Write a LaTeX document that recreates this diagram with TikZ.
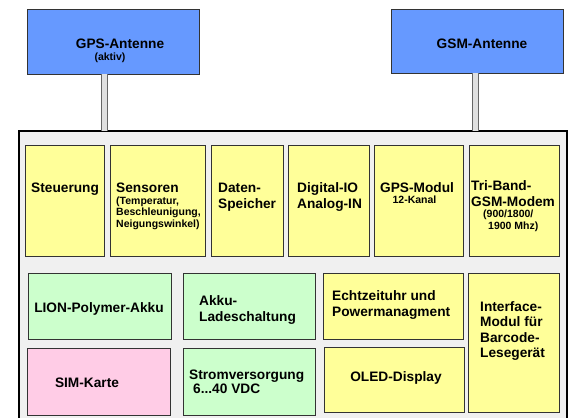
\documentclass[tikz,border=0pt]{standalone}
\usepackage{fontspec}
\setmainfont{Liberation Sans}
\definecolor{antblau}{HTML}{6699FF}
\definecolor{gelb}{HTML}{FFFF99}
\definecolor{gruen}{HTML}{CCFFCC}
\definecolor{rosa}{HTML}{FFCCE6}
\definecolor{gehaeuse}{HTML}{F0F0F0}
\begin{document}
\begin{tikzpicture}[x=1pt,y=-1pt,
  box/.style={draw=black!80, line width=0.9pt, anchor=north west, inner sep=0pt, outer sep=0pt},
  gross/.style={font=\fontsize{13.7}{16}\selectfont\bfseries, inner sep=0pt, align=left},
  klein/.style={font=\fontsize{10.5}{11.7}\selectfont\bfseries, inner sep=0pt, align=left},
  mast/.style={draw=black!60, double=black!12, double distance=5pt, line width=1pt}]
\clip (0,0) rectangle (571,418);

% Antennen
\node[box, fill=antblau, minimum width=172pt, minimum height=65pt] (gpsant) at (27,9) {};
\node[box, fill=antblau, minimum width=172pt, minimum height=64pt] (gsmant) at (391,9) {};
\node[gross, anchor=base] (gpsantt) at (120,48) {GPS-Antenne};
\node[klein, anchor=base] (gpsantk) at (110,60) {(aktiv)};
\node[gross, anchor=base] (gsmantt) at (482,48) {GSM-Antenne};

% Gehaeuse
\node[box, fill=gehaeuse, line width=1.3pt, draw=black, minimum width=548pt, minimum height=300pt] (geraet) at (19,131) {};
\coordinate (gpsmast) at (104.5,0);
\coordinate (gsmmast) at (475.5,0);
\draw[mast] (gpsant.south -| gpsmast) -- (geraet.north -| gpsmast);
\draw[mast] (gsmant.south -| gsmmast) -- (geraet.north -| gsmmast);

% obere Reihe
\foreach \n/\x/\w in {steu/25/79, sens/110/95, daten/211/72, dio/288/81, gpsmod/374/89, gsmmod/469/90}
{
    \node[box, fill=gelb, minimum width=\w pt, minimum height=111pt] (\n) at (\x,145) {};
}
% mehrzeilig: base = letzte Zeile
\node[gross, anchor=base west] (steut) at (31,192) {Steuerung};
\node[gross, anchor=base west] (senst) at (116,192) {Sensoren};
\node[klein, anchor=base west] (sensk) at (116,227.4) {(Temperatur,\\Beschleunigung,\\Neigungswinkel)};
\node[gross, anchor=base west] (datent) at (218,208) {Daten-\\Speicher};
\node[gross, anchor=base west] (diot) at (297,208) {Digital-IO\\Analog-IN};
\node[gross, anchor=base west] (gpsmodt) at (380,192) {GPS-Modul};
\node[klein, anchor=base] (gpsmodk) at (414.5,203) {12-Kanal};
\node[gross, anchor=base west] (gsmmodt) at (471,206) {Tri-Band-\\GSM-Modem};
\node[klein, anchor=base west] (gsmmodk) at (483,229) {(900/1800/\\\hspace*{5pt}1900 Mhz)};

% untere Reihen
\node[box, fill=gruen, minimum width=143pt, minimum height=66pt] (lion) at (28,273) {};
\node[box, fill=gruen, minimum width=132pt, minimum height=66pt] (lade) at (183,273) {};
\node[box, fill=rosa, minimum width=143pt, minimum height=67pt] (sim) at (27,348) {};
\node[box, fill=gruen, minimum width=132pt, minimum height=67pt] (strom) at (183,348) {};
\node[box, fill=gelb, minimum width=140pt, minimum height=66pt] (rtc) at (323,273) {};
\node[box, fill=gelb, minimum width=140pt, minimum height=65pt] (oled) at (324,347) {};
\node[box, fill=gelb, minimum width=91pt, minimum height=139pt] (iface) at (468,273) {};

\node[gross, anchor=base] (liont) at (99,312) {LION-Polymer-Akku};
\node[gross, anchor=base west] (ladet) at (199,321) {Akku-\\Ladeschaltung};
\node[gross, anchor=base] (simt) at (87,387) {SIM-Karte};
\node[gross, anchor=base west, font=\fontsize{13.7}{14.5}\selectfont\bfseries] (stromt) at (189,393.5) {Stromversorgung\\\hspace*{4pt}6...40 VDC};
\node[gross, anchor=base west] (rtct) at (332,316) {Echtzeituhr und\\Powermanagment};
\node[gross, anchor=base] (oledt) at (396,381) {OLED-Display};
\node[gross, anchor=base west, font=\fontsize{13.7}{15.5}\selectfont\bfseries] (ifacet) at (480,357.5) {Interface-\\Modul für\\Barcode-\\Lesegerät};
\end{tikzpicture}
\end{document}
